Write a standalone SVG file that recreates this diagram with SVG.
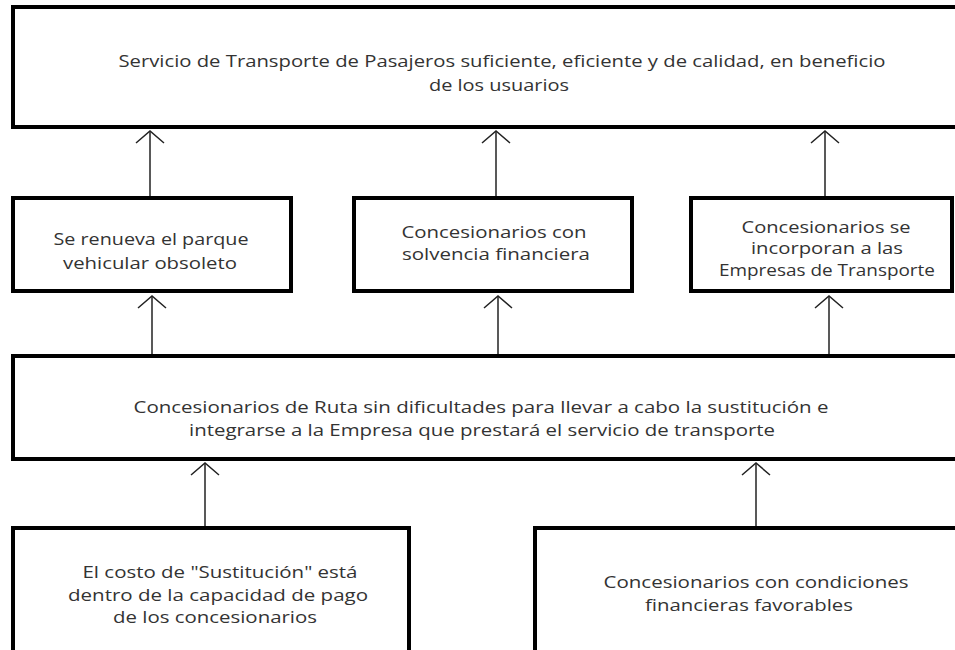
<svg xmlns="http://www.w3.org/2000/svg" width="955" height="650" viewBox="0 0 955 650">
<defs>
<style>
.box{fill:#fff;stroke:#000;stroke-width:4}
.t{font-family:"Open Sans","Noto Sans","Liberation Sans",sans-serif;font-size:17px;fill:#333;text-anchor:middle}
.c{font-family:"Open Sans","Noto Sans","Liberation Sans",sans-serif;font-size:17px;fill:#333;text-anchor:middle}
.a{stroke:#222;stroke-width:1.5;fill:none;marker-end:url(#h)}
</style>
<marker id="h" markerUnits="userSpaceOnUse" markerWidth="30" markerHeight="30" refX="0" refY="0" viewBox="-15 -15 30 30" orient="auto" overflow="visible">
<path d="M-12,-14 L0,0 L-12,14" fill="none" stroke="#222" stroke-width="1.5"/>
</marker>
</defs>
<rect width="955" height="650" fill="#fff"/>
<g id="connectors">
<line class="a" x1="150" y1="198" x2="150" y2="131"/>
<line class="a" x1="496" y1="198" x2="496" y2="131"/>
<line class="a" x1="825" y1="198" x2="825" y2="131"/>
<line class="a" x1="152" y1="356" x2="152" y2="296"/>
<line class="a" x1="498" y1="356" x2="498" y2="296"/>
<line class="a" x1="829" y1="356" x2="829" y2="296"/>
<line class="a" x1="205" y1="528" x2="205" y2="463"/>
<line class="a" x1="756" y1="528" x2="756" y2="463"/>
</g>
<g id="goal">
<rect class="box" x="13" y="7" width="960" height="120"/>
<text class="c" x="502" y="67" textLength="767" lengthAdjust="spacingAndGlyphs">Servicio de Transporte de Pasajeros suficiente, eficiente y de calidad, en beneficio</text>
<text class="c" x="499" y="91" textLength="140" lengthAdjust="spacingAndGlyphs">de los usuarios</text>
</g>
<g id="n1">
<rect class="box" x="13" y="198" width="278" height="93"/>
<text class="t" x="151" y="245" textLength="195" lengthAdjust="spacingAndGlyphs">Se renueva el parque</text>
<text class="t" x="150" y="269" textLength="174" lengthAdjust="spacingAndGlyphs">vehicular obsoleto</text>
</g>
<g id="n2">
<rect class="box" x="354" y="198" width="278" height="93"/>
<text class="t" x="494" y="238" textLength="185" lengthAdjust="spacingAndGlyphs">Concesionarios con</text>
<text class="t" x="496" y="260" textLength="188" lengthAdjust="spacingAndGlyphs">solvencia financiera</text>
</g>
<g id="n3">
<rect class="box" x="691" y="198" width="261" height="93"/>
<text class="t" x="826" y="233" textLength="169" lengthAdjust="spacingAndGlyphs">Concesionarios se</text>
<text class="t" x="827" y="254" textLength="152" lengthAdjust="spacingAndGlyphs">incorporan a las</text>
<text class="t" x="827" y="276" textLength="216" lengthAdjust="spacingAndGlyphs">Empresas de Transporte</text>
</g>
<g id="mid">
<rect class="box" x="13" y="356" width="960" height="103"/>
<text class="c" x="481" y="413" textLength="695" lengthAdjust="spacingAndGlyphs">Concesionarios de Ruta sin dificultades para llevar a cabo la sustitución e</text>
<text class="c" x="482" y="436" textLength="586" lengthAdjust="spacingAndGlyphs">integrarse a la Empresa que prestará el servicio de transporte</text>
</g>
<g id="c1">
<rect class="box" x="13" y="528" width="396" height="140"/>
<text class="t" x="220" y="578" textLength="275" lengthAdjust="spacingAndGlyphs">El costo de "Sustitución" está</text>
<text class="t" x="218" y="601" textLength="300" lengthAdjust="spacingAndGlyphs">dentro de la capacidad de pago</text>
<text class="t" x="215" y="623" textLength="204" lengthAdjust="spacingAndGlyphs">de los concesionarios</text>
</g>
<g id="c2">
<rect class="box" x="535" y="528" width="440" height="140"/>
<text class="t" x="756" y="588" textLength="305" lengthAdjust="spacingAndGlyphs">Concesionarios con condiciones</text>
<text class="t" x="749" y="611" textLength="208" lengthAdjust="spacingAndGlyphs">financieras favorables</text>
</g>
</svg>
